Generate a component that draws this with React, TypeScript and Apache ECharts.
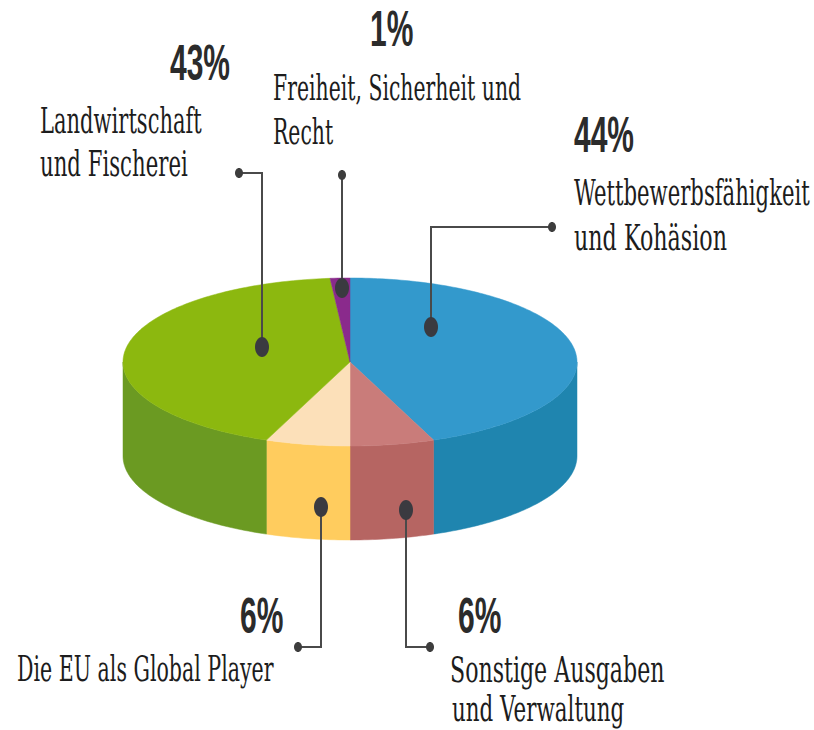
import React, { useEffect, useRef } from "react";
import * as echarts from "echarts";

const categories = [
  "Wettbewerbsfähigkeit und Kohäsion",
  "Sonstige Ausgaben und Verwaltung",
  "Die EU als Global Player",
  "Landwirtschaft und Fischerei",
  "Freiheit, Sicherheit und Recht",
];
const shares = [44, 6, 6, 42.6, 1.4];
const topColors = ["#3399cc", "#c97c7a", "#fce0b9", "#8cb80f", "#8a2a8c"];
const sideColors = ["#1f85af", "#b66562", "#ffcc5e", "#6b9a22", "#6b9a22"];

const percentLabels = [
  { text: "43%", x: 170, y: 88 },
  { text: "1%", x: 370, y: 54 },
  { text: "44%", x: 574, y: 160 },
  { text: "6%", x: 240, y: 641 },
  { text: "6%", x: 458, y: 641 },
];
const textLines = [
  { text: "Landwirtschaft", x: 40, y: 139, sx: 0.585 },
  { text: "und Fischerei", x: 40, y: 182, sx: 0.59 },
  { text: "Freiheit, Sicherheit und", x: 273, y: 106, sx: 0.567 },
  { text: "Recht", x: 273, y: 150, sx: 0.567 },
  { text: "Wettbewerbsfähigkeit", x: 574, y: 211, sx: 0.588 },
  { text: "und Kohäsion", x: 574, y: 255, sx: 0.617 },
  { text: "Die EU als Global Player", x: 17, y: 687, sx: 0.571 },
  { text: "Sonstige Ausgaben", x: 450, y: 687, sx: 0.614 },
  { text: "und Verwaltung", x: 452, y: 727, sx: 0.595 },
];
const leaders = [
  { pts: [[239, 173], [262, 173], [262, 347]], big: [262, 347] },
  { pts: [[342, 175], [342, 288]], big: [342, 288] },
  { pts: [[552, 227], [431, 227], [431, 327]], big: [431, 327] },
  { pts: [[298, 647], [321, 647], [321, 507]], big: [321, 507] },
  { pts: [[430, 647], [406, 647], [406, 510]], big: [406, 510] },
];

const CX = 350, CY = 362, RX = 227, RY = 84, DEPTH = 94;

function pt(t: number, dy = 0) {
  const r = (t * Math.PI) / 180;
  return [CX + RX * Math.sin(r), CY - RY * Math.cos(r) + dy];
}

export default function App() {
  const ref = useRef<HTMLDivElement>(null);
  useEffect(() => {
    const chart = echarts.init(ref.current!, undefined, { renderer: "svg" });
    let acc = 0;
    const total = shares.reduce((a, b) => a + b, 0);
    const sliceData = shares.map((v, i) => {
      const start = (acc / total) * 360;
      acc += v;
      return { name: categories[i], value: [start, (acc / total) * 360, i] };
    });

    const renderSide = (_p: any, api: any) => {
      const a = Math.max(api.value(0), 90);
      const b = Math.min(api.value(1), 270);
      if (b <= a) return null;
      const i = api.value(2);
      const top: number[][] = [];
      const bottom: number[][] = [];
      for (let t = a; t < b; t += 1) {
        top.push(pt(t));
        bottom.unshift(pt(t, DEPTH));
      }
      top.push(pt(b));
      bottom.unshift(pt(b, DEPTH));
      return {
        type: "polygon",
        shape: { points: top.concat(bottom) },
        style: { fill: sideColors[i], stroke: sideColors[i], lineWidth: 0.5 },
      };
    };
    const renderTop = (_p: any, api: any) => {
      const a = api.value(0);
      const b = api.value(1);
      const i = api.value(2);
      const points: number[][] = [[CX, CY]];
      for (let t = a; t < b; t += 1) points.push(pt(t));
      points.push(pt(b));
      return {
        type: "polygon",
        shape: { points },
        style: { fill: topColors[i], stroke: topColors[i], lineWidth: 0.5 },
      };
    };

    const ink = "#2b2b2b";
    const graphics: any[] = [];
    percentLabels.forEach((l) => {
      graphics.push({
        type: "text", x: l.x, y: l.y, scaleX: 0.6, scaleY: 1, z: 100,
        style: {
          text: l.text, fill: ink, fontFamily: "Liberation Sans", fontWeight: "bold",
          fontSize: 50, textAlign: "left", textVerticalAlign: "bottom",
        },
      });
    });
    textLines.forEach((l) => {
      graphics.push({
        type: "text", x: l.x, y: l.y, scaleX: l.sx, scaleY: 1, z: 100,
        style: {
          text: l.text, fill: "#1c1c1c", fontFamily: "DejaVu Serif",
          fontSize: 36, textAlign: "left", textVerticalAlign: "bottom",
        },
      });
    });
    leaders.forEach((l) => {
      graphics.push({
        type: "polyline", z: 100,
        shape: { points: l.pts },
        style: { stroke: "#4a4a4a", lineWidth: 2, fill: "none" },
      });
      const s = l.pts[0];
      graphics.push({
        type: "ellipse", z: 101,
        shape: { cx: s[0], cy: s[1], rx: 4, ry: 5 },
        style: { fill: "#3d3d3d" },
      });
      graphics.push({
        type: "ellipse", z: 101,
        shape: { cx: l.big[0], cy: l.big[1], rx: 7, ry: 10 },
        style: { fill: "#3a3a40" },
      });
    });

    chart.setOption({
      animation: false,
      backgroundColor: "#ffffff",
      series: [
        { type: "custom", coordinateSystem: "none", z: 2, renderItem: renderSide, data: sliceData, silent: true },
        { type: "custom", coordinateSystem: "none", z: 3, renderItem: renderTop, data: sliceData, silent: true },
      ],
      graphic: { elements: graphics },
    });
    return () => chart.dispose();
  }, []);
  return (
    <div
      ref={ref}
      style={{ position: "absolute", left: 0, top: 0, width: 814, height: 730 }}
    />
  );
}
